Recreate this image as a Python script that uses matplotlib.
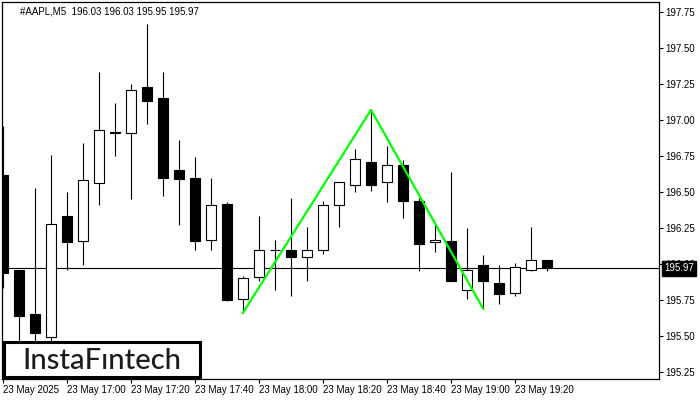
import matplotlib
matplotlib.use('Agg')
import matplotlib.pyplot as plt

# 5-минутные свечи AAPL, 23 May 2025, начиная с 16:40
opens = [196.62, 195.96, 195.65, 195.49, 196.33, 196.16, 196.56, 196.92, 196.91, 197.23,
         197.15, 196.65, 196.60, 196.17, 196.42, 195.76, 195.91, 196.10, 196.10, 196.05,
         196.10, 196.41, 196.55, 196.71, 196.57, 196.69, 196.44, 196.15, 196.16, 195.82,
         195.99, 195.87, 195.80, 195.96, 196.03]
highs = [196.96, 195.96, 196.53, 196.76, 196.50, 196.84, 197.33, 197.12, 197.25, 197.67,
         197.33, 196.86, 196.74, 196.60, 196.43, 195.92, 196.33, 196.17, 196.46, 196.26,
         196.44, 196.57, 196.80, 197.07, 196.82, 196.72, 196.46, 196.28, 196.64, 196.25,
         196.06, 195.99, 196.01, 196.26, 196.03]
lows = [195.83, 195.42, 195.40, 195.45, 195.96, 195.99, 196.41, 196.75, 196.45, 196.97,
        196.47, 196.27, 196.10, 196.10, 195.74, 195.66, 195.88, 195.82, 195.78, 195.88,
        196.07, 196.26, 196.50, 196.51, 196.43, 196.32, 195.95, 196.08, 195.88, 195.76,
        195.69, 195.72, 195.78, 195.95, 195.95]
closes = [195.94, 195.64, 195.52, 196.28, 196.15, 196.58, 196.93, 196.91, 197.21, 197.13,
          196.60, 196.59, 196.16, 196.41, 195.75, 195.90, 196.10, 196.10, 196.05, 196.10,
          196.41, 196.57, 196.73, 196.55, 196.69, 196.44, 196.14, 196.17, 195.88, 195.96,
          195.88, 195.79, 195.98, 196.03, 195.97]

# фигура "двойное дно": минимум, пик, минимум
pattern_idx = [15, 23, 30]

tick_idx = [0, 4, 8, 12, 16, 20, 24, 28, 32]
tick_labels = ['23 May 2025', '23 May 17:00', '23 May 17:20', '23 May 17:40', '23 May 18:00',
               '23 May 18:20', '23 May 18:40', '23 May 19:00', '23 May 19:20']
price_ticks = [195.25, 195.50, 195.75, 196.00, 196.25, 196.50, 196.75, 197.00, 197.25, 197.50, 197.75]

title = '#AAPL,M5  196.03 196.03 195.95 195.97'

plt.rcParams['font.family'] = ['Liberation Sans', 'DejaVu Sans']

fig = plt.figure(figsize=(7, 4), dpi=100)
ax = fig.add_axes([2 / 700, 21 / 400, 657 / 700, 377 / 400])

for i in range(len(opens)):
    o, c = opens[i], closes[i]
    up = c >= o
    ax.vlines(i, lows[i], highs[i], color='black', lw=0.8, zorder=2)
    ax.bar(i, abs(c - o), width=0.62, bottom=min(o, c),
           color='white' if up else 'black', edgecolor='black', lw=0.8, zorder=3)

pattern_vals = [lows[pattern_idx[0]], highs[pattern_idx[1]], lows[pattern_idx[2]]]
ax.plot(pattern_idx, pattern_vals, color='#00ff00', lw=1.6, zorder=4)

last = closes[-1]
ax.axhline(last, color='black', lw=0.8, zorder=1)

ax.set_xlim(-0.04, 40.98)
ax.set_ylim(195.2014, 197.8194)

ax.set_xticks(tick_idx)
ax.set_xticklabels(tick_labels, fontsize=7)
for lbl in ax.get_xticklabels():
    lbl.set_ha('left')
ax.tick_params(axis='x', direction='out', length=3, width=0.8, pad=1.5)

ax.yaxis.tick_right()
ax.set_yticks(price_ticks)
ax.set_yticklabels(['%.2f' % p for p in price_ticks], fontsize=7)
ax.tick_params(axis='y', direction='out', length=3, width=0.8, pad=1.5)

for s in ax.spines.values():
    s.set_linewidth(0.9)

ax.text(18 / 657, 1 - 9 / 377, title, transform=ax.transAxes, fontsize=7,
        ha='left', va='center')

# метка текущей цены справа
ax.annotate('%.2f' % last, xy=(1.0, last), xycoords=('axes fraction', 'data'),
            xytext=(3.6, 0), textcoords='offset points', fontsize=7, color='white',
            ha='left', va='center', annotation_clip=False, zorder=10,
            bbox=dict(boxstyle='square,pad=0.25', fc='black', ec='black'))

# логотип
logo = fig.add_axes([4.2 / 700, 1 - 376.8 / 400, 195.6 / 700, 35 / 400])
logo.set_facecolor('white')
logo.set_xticks([])
logo.set_yticks([])
for s in logo.spines.values():
    s.set_linewidth(2.2)
    s.set_color('black')
logo.text(0.5, 0.45, 'InstaF\u0131ntech', fontsize=21, family='Lato', weight='medium',
          color='#1c1c1c', ha='center', va='center', transform=logo.transAxes)

fig.savefig('out.png', dpi=100)
